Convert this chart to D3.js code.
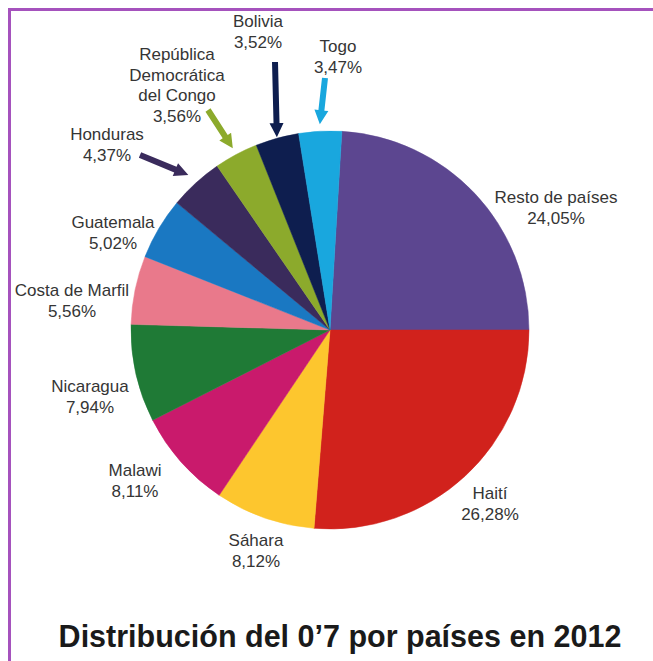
<!DOCTYPE html>
<html>
<head>
<meta charset="utf-8">
<script src="https://cdn.jsdelivr.net/npm/d3@7"></script>
<style>
  body { margin: 0; background: #fff; }
  text { font-family: "Liberation Sans", Arial, sans-serif; }
</style>
</head>
<body>
<div id="chart"></div>
<script>
// data, clockwise from the top
const countries = ['Resto de países', 'Haití', 'Sáhara', 'Malawi', 'Nicaragua', 'Costa de Marfil',
    'Guatemala', 'Honduras', 'República Democrática del Congo', 'Bolivia', 'Togo'];
const shares = [24.05, 26.28, 8.12, 8.11, 7.94, 5.56, 5.02, 4.37, 3.56, 3.52, 3.47];
const colors = ['#5c4690', '#d1221c', '#fdc62e', '#c91a6c', '#1f7a36', '#e9798b',
    '#1a78c2', '#3a2b5c', '#8caa2c', '#0e1e4f', '#19a7de'];

// label layout: lines of the name, text anchor point, optional arrow start
const labels = [
    { lines: ['Resto de países'], x: 556, y: 203 },
    { lines: ['Haití'], x: 490, y: 499 },
    { lines: ['Sáhara'], x: 256, y: 546 },
    { lines: ['Malawi'], x: 135, y: 476 },
    { lines: ['Nicaragua'], x: 90, y: 392 },
    { lines: ['Costa de Marfil'], x: 72, y: 296 },
    { lines: ['Guatemala'], x: 113, y: 228 },
    { lines: ['Honduras'], x: 107, y: 140, arrow: [140, 155], tipR: 210 },
    { lines: ['República', 'Democrática', 'del Congo'], x: 177, y: 60, arrow: [208, 110], tipR: 206 },
    { lines: ['Bolivia'], x: 258, y: 27, arrow: [275, 62], tipR: 200 },
    { lines: ['Togo'], x: 338, y: 52, arrow: [325, 78], tipR: 206 }
];

const width = 653, height = 661;
const cx = 330, cy = 330, radius = 199;

const svg = d3.select('#chart').append('svg')
    .attr('width', width)
    .attr('height', height);

// purple frame (top and left only)
svg.append('line').attr('x1', 8).attr('x2', width).attr('y1', 9.5).attr('y2', 9.5)
    .attr('stroke', '#a552bd').attr('stroke-width', 3);
svg.append('line').attr('x1', 9.5).attr('x2', 9.5).attr('y1', 8).attr('y2', height)
    .attr('stroke', '#a552bd').attr('stroke-width', 3);

// first slice ends exactly at 3 o'clock
const total = d3.sum(shares);
const start = Math.PI / 2 - 2 * Math.PI * shares[0] / total;

const pie = d3.pie()
    .value(d => d)
    .sort(null)
    .startAngle(start)
    .endAngle(start + 2 * Math.PI);

const arc = d3.arc().innerRadius(0).outerRadius(radius);

const plot = svg.append('g').attr('transform', `translate(${cx},${cy})`);
const arcs = pie(shares);

plot.selectAll('path')
    .data(arcs)
    .enter()
    .append('path')
    .attr('d', arc)
    .attr('fill', (d, i) => colors[i])
    .attr('stroke', (d, i) => colors[i])
    .attr('stroke-width', 0.5);

// arrows for the small slices
function arrowPath(x1, y1, x2, y2, w, hw, hl) {
    const dx = x2 - x1, dy = y2 - y1;
    const len = Math.sqrt(dx * dx + dy * dy);
    const ux = dx / len, uy = dy / len;
    const px = -uy, py = ux;
    const bx = x2 - ux * hl, by = y2 - uy * hl;
    const pts = [
        [x1 + px * w / 2, y1 + py * w / 2],
        [bx + px * w / 2, by + py * w / 2],
        [bx + px * hw / 2, by + py * hw / 2],
        [x2, y2],
        [bx - px * hw / 2, by - py * hw / 2],
        [bx - px * w / 2, by - py * w / 2],
        [x1 - px * w / 2, y1 - py * w / 2]
    ];
    return 'M' + pts.map(p => p.join(',')).join('L') + 'Z';
}

labels.forEach((lb, i) => {
    if (!lb.arrow) return;
    const a = (arcs[i].startAngle + arcs[i].endAngle) / 2;
    const tx = cx + lb.tipR * Math.sin(a);
    const ty = cy - lb.tipR * Math.cos(a);
    svg.append('path')
        .attr('d', arrowPath(lb.arrow[0], lb.arrow[1], tx, ty, 6, 14, 14))
        .attr('fill', colors[i]);
});

// labels
const fmt = v => v.toFixed(2).replace('.', ',') + '%';

labels.forEach((lb, i) => {
    const t = svg.append('text')
        .attr('x', lb.x)
        .attr('y', lb.y)
        .attr('text-anchor', 'middle')
        .attr('font-size', 17)
        .attr('fill', '#353535');
    lb.lines.concat([fmt(shares[i])]).forEach((s, k) => {
        t.append('tspan')
            .attr('x', lb.x)
            .attr('dy', k === 0 ? 0 : 20.5)
            .text(s);
    });
});

// title
svg.append('text')
    .attr('x', 340)
    .attr('y', 647)
    .attr('text-anchor', 'middle')
    .attr('font-size', 30.5)
    .attr('font-weight', 'bold')
    .attr('fill', '#1a1a1a')
    .text('Distribución del 0’7 por países en 2012');
</script>
</body>
</html>
